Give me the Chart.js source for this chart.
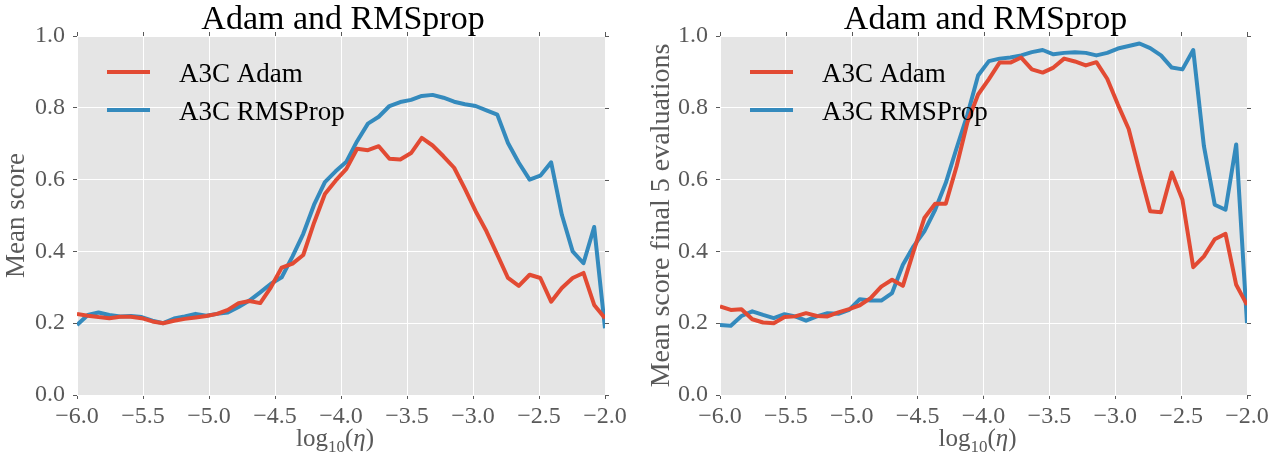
<!DOCTYPE html>
<html>
<head>
<meta charset="utf-8">
<script src="https://cdn.jsdelivr.net/npm/chart.js@4"></script>
<style>
  html, body { margin: 0; padding: 0; background: #ffffff; }
  .row { display: flex; width: 1283px; height: 454px; }
  canvas { display: block; }
</style>
</head>
<body>
<div class="row">
  <canvas id="left" width="640" height="454"></canvas>
  <canvas id="right" width="643" height="454"></canvas>
</div>
<script>
// log10 of the learning rate grid (50 settings)
const logEta = [
  -6.000, -5.918, -5.837, -5.755, -5.673, -5.592, -5.510, -5.429, -5.347, -5.265,
  -5.184, -5.102, -5.020, -4.939, -4.857, -4.776, -4.694, -4.612, -4.531, -4.449,
  -4.367, -4.286, -4.204, -4.122, -4.041, -3.959, -3.878, -3.796, -3.714, -3.633,
  -3.551, -3.469, -3.388, -3.306, -3.224, -3.143, -3.061, -2.980, -2.898, -2.816,
  -2.735, -2.653, -2.571, -2.490, -2.408, -2.327, -2.245, -2.163, -2.082, -2.000
];

// Mean score over training
const adamMean = [
  0.226, 0.221, 0.217, 0.214, 0.218, 0.218, 0.214, 0.205, 0.200, 0.207,
  0.212, 0.216, 0.220, 0.226, 0.237, 0.256, 0.262, 0.256, 0.300, 0.355,
  0.366, 0.390, 0.480, 0.560, 0.597, 0.630, 0.686, 0.682, 0.693, 0.658,
  0.656, 0.674, 0.716, 0.695, 0.665, 0.633, 0.574, 0.512, 0.456, 0.391,
  0.326, 0.304, 0.335, 0.326, 0.260, 0.298, 0.326, 0.340, 0.251, 0.214
];
const rmspropMean = [
  0.195, 0.223, 0.230, 0.223, 0.219, 0.220, 0.217, 0.207, 0.200, 0.213,
  0.219, 0.226, 0.221, 0.226, 0.230, 0.245, 0.263, 0.286, 0.310, 0.328,
  0.386, 0.449, 0.530, 0.593, 0.623, 0.650, 0.707, 0.756, 0.775, 0.805,
  0.816, 0.822, 0.833, 0.836, 0.828, 0.817, 0.810, 0.805, 0.793, 0.781,
  0.702, 0.647, 0.600, 0.611, 0.648, 0.502, 0.400, 0.367, 0.468, 0.186
];

// Mean score over the final 5 evaluations
const adamFinal = [
  0.247, 0.237, 0.239, 0.211, 0.202, 0.200, 0.217, 0.219, 0.228, 0.220,
  0.219, 0.230, 0.239, 0.250, 0.270, 0.302, 0.321, 0.304, 0.400, 0.493,
  0.533, 0.533, 0.637, 0.760, 0.837, 0.880, 0.926, 0.926, 0.940, 0.907,
  0.898, 0.912, 0.937, 0.929, 0.918, 0.927, 0.881, 0.809, 0.741, 0.623,
  0.512, 0.509, 0.620, 0.544, 0.356, 0.386, 0.434, 0.449, 0.307, 0.251
];
const rmspropFinal = [
  0.195, 0.193, 0.220, 0.233, 0.223, 0.214, 0.225, 0.219, 0.207, 0.219,
  0.228, 0.226, 0.237, 0.267, 0.263, 0.263, 0.284, 0.363, 0.414, 0.456,
  0.516, 0.591, 0.688, 0.781, 0.890, 0.930, 0.937, 0.940, 0.946, 0.955,
  0.961, 0.949, 0.953, 0.955, 0.953, 0.946, 0.953, 0.965, 0.972, 0.979,
  0.966, 0.946, 0.912, 0.907, 0.961, 0.693, 0.530, 0.516, 0.698, 0.200
];

const seriesNames = ['A3C Adam', 'A3C RMSProp'];
const seriesColors = ['#E24A33', '#348ABD'];
const panelTitle = 'Adam and RMSprop';
const yTitles = ['Mean score', 'Mean score final 5 evaluations'];
const xTicks = [-6.0, -5.5, -5.0, -4.5, -4.0, -3.5, -3.0, -2.5, -2.0];
const yTicks = [0.0, 0.2, 0.4, 0.6, 0.8, 1.0];

const SERIF = '"Liberation Serif", "DejaVu Serif", serif';
const TICK_GREY = '#595959';

function fmt(v) {
  return v.toFixed(1).replace('-', '\u2212');
}

function points(xs, ys) {
  return xs.map((x, i) => ({ x: x, y: ys[i] }));
}

// Panel decoration: title, axis titles, outer ticks on top/right, legend
const decorations = {
  id: 'decorations',
  afterDraw(chart, args, opts) {
    const ctx = chart.ctx;
    const a = chart.chartArea;
    const cx = (a.left + a.right) / 2;
    const cy = (a.top + a.bottom) / 2;
    ctx.save();

    // mirrored tick marks on top and right edges
    ctx.strokeStyle = TICK_GREY;
    ctx.lineWidth = 1;
    const xs = chart.scales.x, ys = chart.scales.y;
    xs.ticks.forEach(t => {
      const px = Math.round(xs.getPixelForValue(t.value)) + 0.5;
      ctx.beginPath(); ctx.moveTo(px, a.top); ctx.lineTo(px, a.top - 4); ctx.stroke();
    });
    ys.ticks.forEach(t => {
      const py = Math.round(ys.getPixelForValue(t.value)) + 0.5;
      ctx.beginPath(); ctx.moveTo(a.right, py); ctx.lineTo(a.right + 4, py); ctx.stroke();
    });

    // title
    ctx.fillStyle = '#000000';
    ctx.font = '34px ' + SERIF;
    ctx.textAlign = 'center';
    ctx.textBaseline = 'alphabetic';
    ctx.fillText(panelTitle, cx + 2, 29);

    // y axis title
    ctx.save();
    ctx.translate(opts.yTitleX, cy);
    ctx.rotate(-Math.PI / 2);
    ctx.fillStyle = TICK_GREY;
    ctx.font = opts.yTitleSize + 'px ' + SERIF;
    ctx.textAlign = 'center';
    ctx.textBaseline = 'middle';
    ctx.fillText(opts.yTitle, 0, 0);
    ctx.restore();

    // x axis title: log_10(eta)
    const big = '25px ' + SERIF, small = '17px ' + SERIF, ital = 'italic 25px ' + SERIF;
    const parts = [
      { t: 'log', f: big, dy: 0 },
      { t: '10', f: small, dy: 6 },
      { t: '(', f: big, dy: 0 },
      { t: '\u03B7', f: ital, dy: 0 },
      { t: ')', f: big, dy: 0 }
    ];
    let total = 0;
    parts.forEach(p => { ctx.font = p.f; p.w = ctx.measureText(p.t).width; total += p.w; });
    let x = cx - 6 - total / 2;
    const base = 446;
    ctx.fillStyle = TICK_GREY;
    ctx.textAlign = 'left';
    parts.forEach(p => { ctx.font = p.f; ctx.fillText(p.t, x, base + p.dy); x += p.w; });

    // legend
    chart.data.datasets.forEach((ds, i) => {
      const ly = a.top + 36 + i * 38;
      ctx.strokeStyle = ds.borderColor;
      ctx.lineWidth = 4;
      ctx.lineCap = 'butt';
      ctx.beginPath(); ctx.moveTo(a.left + 30, ly); ctx.lineTo(a.left + 73, ly); ctx.stroke();
      ctx.fillStyle = '#000000';
      ctx.font = '27px ' + SERIF;
      ctx.textAlign = 'left';
      ctx.textBaseline = 'alphabetic';
      ctx.fillText(ds.label, a.left + 102, ly + 10);
    });
    ctx.restore();
  }
};

function makePanel(canvasId, adam, rms, yTitle, yAxisWidth, rightPad, yTitleX, yTitleSize) {
  return new Chart(document.getElementById(canvasId), {
    type: 'line',
    data: {
      datasets: [
        { label: seriesNames[0], data: points(logEta, adam), borderColor: seriesColors[0] },
        { label: seriesNames[1], data: points(logEta, rms), borderColor: seriesColors[1] }
      ]
    },
    options: {
      responsive: false,
      animation: false,
      devicePixelRatio: 1,
      layout: { padding: { top: 36, right: rightPad, left: 0, bottom: 0 } },
      elements: {
        line: { borderWidth: 4, tension: 0, borderJoinStyle: 'round', borderCapStyle: 'butt', fill: false },
        point: { radius: 0, hoverRadius: 0 }
      },
      plugins: {
        legend: { display: false },
        tooltip: { enabled: false },
        decorations: { yTitle: yTitle, yTitleX: yTitleX, yTitleSize: yTitleSize }
      },
      scales: {
        x: {
          type: 'linear',
          min: -6, max: -2,
          afterBuildTicks: s => { s.ticks = xTicks.map(v => ({ value: v })); },
          afterFit: s => { s.height = 59; },
          ticks: {
            callback: v => fmt(v),
            color: TICK_GREY,
            font: { family: SERIF, size: 24 },
            padding: 3,
            maxRotation: 0,
            autoSkip: false
          },
          grid: { color: '#ffffff', lineWidth: 1, tickLength: 4, tickColor: TICK_GREY, tickWidth: 1 },
          border: { display: false }
        },
        y: {
          type: 'linear',
          min: 0, max: 1,
          afterBuildTicks: s => { s.ticks = yTicks.map(v => ({ value: v })); },
          afterFit: s => { s.width = yAxisWidth; },
          ticks: {
            callback: v => fmt(v),
            color: TICK_GREY,
            font: { family: SERIF, size: 24 },
            padding: 8,
            autoSkip: false
          },
          grid: { color: '#ffffff', lineWidth: 1, tickLength: 4, tickColor: TICK_GREY, tickWidth: 1 },
          border: { display: false }
        }
      }
    },
    plugins: [
      {
        id: 'panelBackground',
        beforeDraw(chart) {
          const a = chart.chartArea;
          chart.ctx.save();
          chart.ctx.fillStyle = '#E5E5E5';
          chart.ctx.fillRect(a.left, a.top, a.right - a.left, a.bottom - a.top);
          chart.ctx.restore();
        }
      },
      decorations
    ]
  });
}

makePanel('left', adamMean, rmspropMean, yTitles[0], 77, 35, 17, 27);
makePanel('right', adamFinal, rmspropFinal, yTitles[1], 80, 36, 22, 28);
</script>
</body>
</html>
